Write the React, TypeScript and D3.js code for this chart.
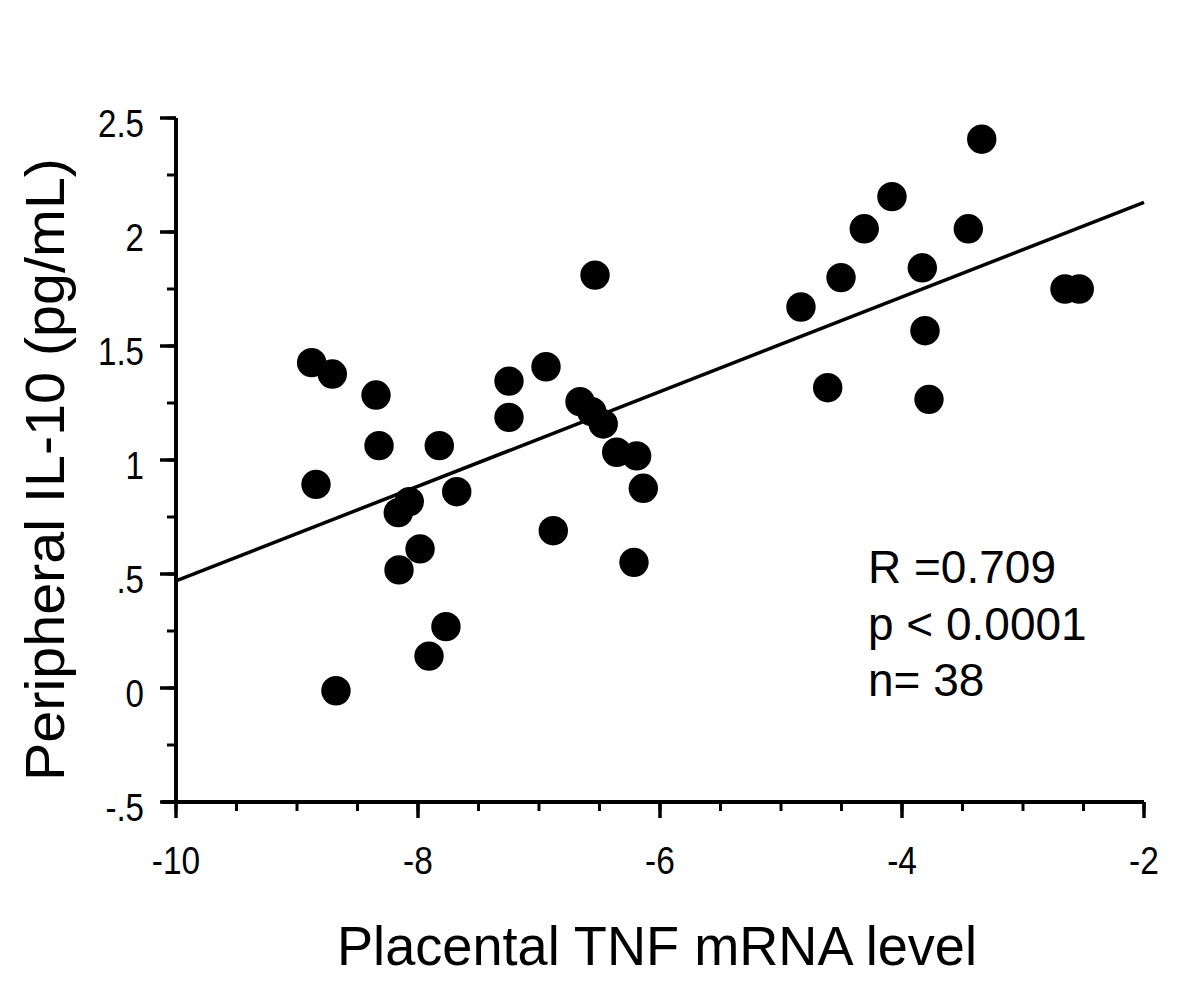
import React, { useEffect, useRef } from "react";
import * as d3 from "d3";

const tnf: number[] = [
  -8.879, -8.708, -8.347, -8.322, -8.843, -8.072, -8.163, -7.983, -8.157, -7.824,
  -7.68, -7.769, -7.909, -8.678, -7.248, -7.248, -6.942, -6.882, -6.661, -6.564,
  -6.537, -6.469, -6.358, -6.193, -6.138, -6.215, -4.835, -4.614, -4.504, -4.312,
  -4.083, -3.452, -3.341, -3.832, -3.81, -3.777, -2.653, -2.535,
];
const il10: number[] = [
  1.427, 1.377, 1.285, 1.063, 0.893, 0.817, 0.769, 0.61, 0.518, 1.063,
  0.861, 0.269, 0.14, -0.012, 1.346, 1.187, 1.409, 0.69, 1.256, 1.212,
  1.811, 1.158, 1.034, 1.018, 0.876, 0.551, 1.671, 1.317, 1.8, 2.014,
  2.155, 2.014, 2.407, 1.843, 1.567, 1.266, 1.75, 1.75,
];
const fitX: number[] = [-10, -2];
const fitY: number[] = [0.47, 2.13];
const xTicks: number[] = [-10, -8, -6, -4, -2];
const xTickLabels: string[] = ["-10", "-8", "-6", "-4", "-2"];
const yTicks: number[] = [2.5, 2, 1.5, 1, 0.5, 0, -0.5];
const yTickLabels: string[] = ["2.5", "2", "1.5", "1", ".5", "0", "-.5"];
const statLines: string[] = ["R =0.709", "p < 0.0001", "n= 38"];
const xTitle = "Placental TNF mRNA level";
const yTitle = "Peripheral IL-10 (pg/mL)";

const FONT = "'Liberation Sans', Arial, Helvetica, sans-serif";

export default function App() {
  const ref = useRef<SVGSVGElement>(null);

  useEffect(() => {
    const svg = d3.select(ref.current);
    svg.selectAll("*").remove();

    const x = d3.scaleLinear().domain([-10, -2]).range([176, 1144]);
    const y = d3.scaleLinear().domain([-0.5, 2.5]).range([802, 118]);

    const g = svg.append("g");

    // minor ticks
    const xMinor = d3.range(-10, -2 + 0.001, 0.5);
    const yMinor = d3.range(-0.5, 2.5 + 0.001, 0.25);
    g.selectAll("line.xminor")
      .data(xMinor)
      .enter()
      .append("line")
      .attr("x1", (d) => x(d))
      .attr("x2", (d) => x(d))
      .attr("y1", y(-0.5))
      .attr("y2", y(-0.5) + 9)
      .attr("stroke", "#000")
      .attr("stroke-width", 3);
    g.selectAll("line.yminor")
      .data(yMinor)
      .enter()
      .append("line")
      .attr("x1", x(-10) - 9)
      .attr("x2", x(-10))
      .attr("y1", (d) => y(d))
      .attr("y2", (d) => y(d))
      .attr("stroke", "#000")
      .attr("stroke-width", 3);

    // major ticks
    g.selectAll("line.xmajor")
      .data(xTicks)
      .enter()
      .append("line")
      .attr("x1", (d) => x(d))
      .attr("x2", (d) => x(d))
      .attr("y1", y(-0.5))
      .attr("y2", y(-0.5) + 16)
      .attr("stroke", "#000")
      .attr("stroke-width", 3.5);
    g.selectAll("line.ymajor")
      .data(yTicks)
      .enter()
      .append("line")
      .attr("x1", x(-10) - 16)
      .attr("x2", x(-10))
      .attr("y1", (d) => y(d))
      .attr("y2", (d) => y(d))
      .attr("stroke", "#000")
      .attr("stroke-width", 3.5);

    // axis lines
    g.append("line")
      .attr("x1", x(-10) - 14)
      .attr("x2", x(-2))
      .attr("y1", y(-0.5))
      .attr("y2", y(-0.5))
      .attr("stroke", "#000")
      .attr("stroke-width", 4);
    g.append("line")
      .attr("x1", x(-10))
      .attr("x2", x(-10))
      .attr("y1", y(2.5))
      .attr("y2", y(-0.5))
      .attr("stroke", "#000")
      .attr("stroke-width", 4);

    // tick labels
    g.selectAll("text.xl")
      .data(xTicks)
      .enter()
      .append("text")
      .attr("x", (d) => x(d))
      .attr("y", 874)
      .attr("text-anchor", "middle")
      .attr("font-family", FONT)
      .attr("font-size", 38)
      .attr("transform", (d) => `translate(${x(d)},0) scale(0.88,1) translate(${-x(d)},0)`)
      .text((d, i) => xTickLabels[i]);
    g.selectAll("text.yl")
      .data(yTicks)
      .enter()
      .append("text")
      .attr("x", 144)
      .attr("y", (d) => y(d) + 19)
      .attr("text-anchor", "end")
      .attr("font-family", FONT)
      .attr("font-size", 38)
      .attr("transform", `translate(144,0) scale(0.87,1) translate(-144,0)`)
      .text((d, i) => yTickLabels[i]);

    // regression line
    const line = d3
      .line<number>()
      .x((d, i) => x(fitX[i]))
      .y((d) => y(d));
    g.append("path")
      .attr("d", line(fitY))
      .attr("fill", "none")
      .attr("stroke", "#000")
      .attr("stroke-width", 3.5);

    // points
    g.selectAll("circle")
      .data(tnf)
      .enter()
      .append("circle")
      .attr("cx", (d) => x(d))
      .attr("cy", (d, i) => y(il10[i]))
      .attr("r", 14.7)
      .attr("fill", "#000");

    // stats
    g.selectAll("text.stat")
      .data(statLines)
      .enter()
      .append("text")
      .attr("x", 868)
      .attr("y", (d, i) => 583 + i * 56.5)
      .attr("font-family", FONT)
      .attr("font-size", 46)
      .text((d) => d);

    // axis titles
    g.append("text")
      .attr("x", 657)
      .attr("y", 965)
      .attr("text-anchor", "middle")
      .attr("font-family", FONT)
      .attr("font-size", 56)
      .attr("textLength", 640)
      .attr("lengthAdjust", "spacingAndGlyphs")
      .text(xTitle);
    g.append("text")
      .attr("transform", `translate(64,469.5) rotate(-90)`)
      .attr("x", 0)
      .attr("y", 0)
      .attr("text-anchor", "middle")
      .attr("font-family", FONT)
      .attr("font-size", 55)
      .attr("textLength", 623)
      .attr("lengthAdjust", "spacingAndGlyphs")
      .text(yTitle);
  }, []);

  return (
    <svg
      ref={ref}
      width={1200}
      height={985}
      style={{ position: "absolute", left: 0, top: 0, background: "#fff" }}
    />
  );
}
